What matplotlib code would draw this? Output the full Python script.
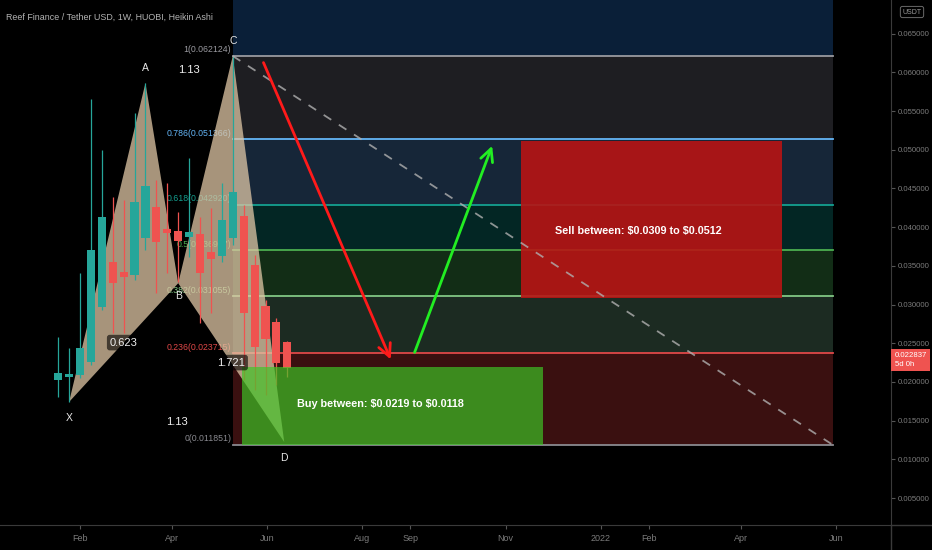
import numpy as np
import pandas as pd
import matplotlib
matplotlib.use('Agg')
import matplotlib.pyplot as plt
import matplotlib.dates as mdates
from matplotlib.patches import Polygon, Rectangle
from matplotlib.lines import Line2D

plt.rcParams['font.family'] = ['Liberation Sans', 'DejaVu Sans']
plt.rcParams['text.parse_math'] = False

# ---- weekly Heikin Ashi candles ----
weeks = pd.date_range('2021-01-18', periods=22, freq='7D')
opens = [0.02025, 0.02064, 0.02090, 0.02258, 0.02968, 0.03550, 0.03421, 0.03382,
         0.03858, 0.04259, 0.03974, 0.03948, 0.03873, 0.03912, 0.03680, 0.03627,
         0.03858, 0.04145, 0.03511, 0.02981, 0.02774, 0.02516]
highs = [0.02582, 0.02439, 0.03408, 0.05656, 0.04997, 0.04388, 0.04349, 0.05475,
         0.05863, 0.04610, 0.04571, 0.04196, 0.04894, 0.04132, 0.04248, 0.04571,
         0.06212, 0.04287, 0.03640, 0.03059, 0.02830, 0.02530]
lows = [0.01806, 0.01741, 0.02051, 0.02219, 0.02930, 0.02632, 0.02632, 0.03318,
        0.03705, 0.03149, 0.03408, 0.03291, 0.03612, 0.02762, 0.02891, 0.03550,
        0.03770, 0.02025, 0.01896, 0.01831, 0.01960, 0.02064]
closes = [0.02116, 0.02103, 0.02439, 0.03705, 0.04132, 0.03279, 0.03356, 0.04326,
          0.04530, 0.03807, 0.03922, 0.03819, 0.03938, 0.03408, 0.03589, 0.04093,
          0.04455, 0.02891, 0.02452, 0.02553, 0.02245, 0.02180]
last_price = 0.022837

# ---- XABCD harmonic pattern ----
xabcd_names = ['X', 'A', 'B', 'C', 'D']
xabcd_dates = ['2021-01-25', '2021-03-15', '2021-04-05', '2021-05-10', '2021-06-12']
xabcd_prices = [0.01741, 0.05863, 0.03276, 0.062124, 0.01224]
ratio_labels = ['0.623', '1.13', '1.721', '1.13']   # XB, AC, BD, XD

# ---- fib retracement ----
fib_low, fib_high = 0.011851, 0.062124
fib_levels = [0, 0.236, 0.382, 0.5, 0.618, 0.786, 1, 1.618]
fib_start, fib_end = '2021-05-10', '2022-05-30'

# ---- trade boxes and arrows ----
buy_box = ('2021-05-16', '2021-11-25', 0.0118, 0.0219)
sell_box = ('2021-11-11', '2022-04-27', 0.0309, 0.0512)
buy_text = 'Buy between: $0.0219 to $0.0118'
sell_text = 'Sell between: $0.0309 to $0.0512'
red_arrow = (('2021-05-29', 0.0616), ('2021-08-20', 0.02258))
green_arrow = (('2021-09-03', 0.02348), ('2021-10-24', 0.05085))

tick_dates = ['2021-02-01', '2021-04-01', '2021-06-01', '2021-08-01', '2021-09-01',
              '2021-11-01', '2022-01-01', '2022-02-01', '2022-04-01', '2022-06-01']
tick_names = ['Feb', 'Apr', 'Jun', 'Aug', 'Sep', 'Nov', '2022', 'Feb', 'Apr', 'Jun']

def dn(s):
    return mdates.date2num(pd.Timestamp(s))

fig = plt.figure(figsize=(9.32, 5.5), dpi=100, facecolor='black')
ax = fig.add_axes([0, 25 / 550, 891 / 932, 525 / 550])
ax.set_facecolor('black')

base = dn('2021-01-01')
ax.set_xlim(base - 20.3, base + 551.2)
ax.set_ylim(0.001512, 0.069359)

# fib bands and lines
band_colors = ['#3a1010', '#1c2b22', '#122d16', '#032624', '#162638', '#1e1e22', '#0a1f38']
line_colors = ['#8a8a90', '#e04848', '#81c784', '#4caf50', '#14a090', '#64b5f6', '#9a9aa0']
fib_prices = [fib_low + l * (fib_high - fib_low) for l in fib_levels]
x0, x1 = dn(fib_start), dn(fib_end)
for i in range(len(fib_levels) - 1):
    ax.add_patch(Rectangle((x0, fib_prices[i]), x1 - x0, fib_prices[i + 1] - fib_prices[i],
                           facecolor=band_colors[i], edgecolor='none', zorder=0.5))
for i in range(len(fib_levels) - 1):
    ax.plot([x0, x1], [fib_prices[i]] * 2, color=line_colors[i], lw=1.3, zorder=1)
    lbl = '%g(%.6f)' % (fib_levels[i], fib_prices[i])
    ax.text(x0 - 1, fib_prices[i] + 0.0002, lbl, color=line_colors[i], fontsize=6.3,
            ha='right', va='bottom', zorder=1)

# dashed trend line of the fib
ax.plot([x0, x1], [fib_high, fib_low], color='#b0b0b0', lw=1.3, ls=(0, (5, 5)),
        alpha=0.8, zorder=5)

# harmonic pattern
pts = [(dn(d), p) for d, p in zip(xabcd_dates, xabcd_prices)]
for tri in ([pts[0], pts[1], pts[2]], [pts[2], pts[3], pts[4]]):
    ax.add_patch(Polygon(tri, closed=True, facecolor=(0.88, 0.78, 0.65), alpha=0.75,
                         edgecolor='none', zorder=2))

# candles
wx = mdates.date2num(weeks)
up = np.array(closes) >= np.array(opens)
cols = np.where(up, '#26a69a', '#ef5350')
ax.vlines(wx, lows, highs, colors=cols, lw=0.9, zorder=3)
ax.bar(wx, np.array(closes) - np.array(opens), bottom=opens, width=5.2,
       color=cols, zorder=3)

# point labels
offs = [-0.0021, 0.0019, -0.0017, 0.0019, -0.0021]
for (x, p), n, o in zip(pts, xabcd_names, offs):
    ax.text(x, p + o, n, color='#e8e8e8', fontsize=7.5, ha='center', va='center', zorder=6)
pairs = [(0, 2), (1, 3), (2, 4), (0, 4)]
for (a, b), r in zip(pairs, ratio_labels):
    mx = (pts[a][0] + pts[b][0]) / 2
    my = (pts[a][1] + pts[b][1]) / 2
    ax.text(mx, my, r, color='#f0f0f0', fontsize=8, ha='center', va='center', zorder=6,
            bbox=dict(boxstyle='round,pad=0.25', facecolor='black', alpha=0.6, edgecolor='none'))

# boxes
for (d0, d1, lo, hi), fc, al in ((buy_box, '#3ec725', 0.68), (sell_box, '#b81414', 0.9)):
    ax.add_patch(Rectangle((dn(d0), lo), dn(d1) - dn(d0), hi - lo, facecolor=fc,
                           alpha=al, edgecolor='none', zorder=4))
ax.text(dn('2021-06-20'), 0.01715, buy_text, color='white', fontsize=7.8,
        fontweight='bold', ha='left', va='center', zorder=6)
ax.text(dn('2021-12-03'), 0.03951, sell_text, color='white', fontsize=7.8,
        fontweight='bold', ha='left', va='center', zorder=6)

# arrows
for (s, e), c in ((red_arrow, '#ff1a1a'), (green_arrow, '#22ee22')):
    ax.annotate('', xy=(dn(e[0]), e[1]), xytext=(dn(s[0]), s[1]), zorder=7,
                arrowprops=dict(arrowstyle='->,head_length=0.9,head_width=0.45',
                                color=c, lw=2))

# axes styling
ax.yaxis.tick_right()
ax.set_yticks(np.arange(0.005, 0.0651, 0.005))
ax.yaxis.set_major_formatter(plt.FormatStrFormatter('%.6f'))
ax.set_xticks([dn(d) for d in tick_dates])
ax.set_xticklabels(tick_names)
ax.tick_params(colors='#555555', labelcolor='#7b7b7b', labelsize=6.5, length=3, width=0.8)
ax.tick_params(axis='y', labelsize=5.6, pad=2)
for s in ('top', 'left'):
    ax.spines[s].set_visible(False)
for s in ('bottom', 'right'):
    ax.spines[s].set_color('#3a3a3a')
fig.add_artist(Line2D([891 / 932, 1], [25 / 550] * 2, color='#3a3a3a', lw=1))
fig.add_artist(Line2D([891 / 932] * 2, [0, 25 / 550], color='#3a3a3a', lw=1))

# current price tag
ax.text(1.004, last_price, '0.022837\n5d 0h', transform=ax.get_yaxis_transform(),
        color='white', fontsize=5.6, ha='left', va='center', linespacing=1.3,
        bbox=dict(boxstyle='square,pad=0.4', facecolor='#ef5350', edgecolor='none'),
        clip_on=False, zorder=8)

fig.text(6 / 932, 1 - 17 / 550, 'Reef Finance / Tether USD, 1W, HUOBI, Heikin Ashi',
         color='#b4b4b4', fontsize=6.4, ha='left', va='center')
fig.text(912 / 932, 1 - 12 / 550, 'USDT', color='#9a9a9a', fontsize=5, ha='center',
         va='center', bbox=dict(boxstyle='round,pad=0.3', facecolor='none',
                                edgecolor='#6a6a6a', lw=0.7))

fig.savefig('out.png', dpi=100, facecolor='black')
